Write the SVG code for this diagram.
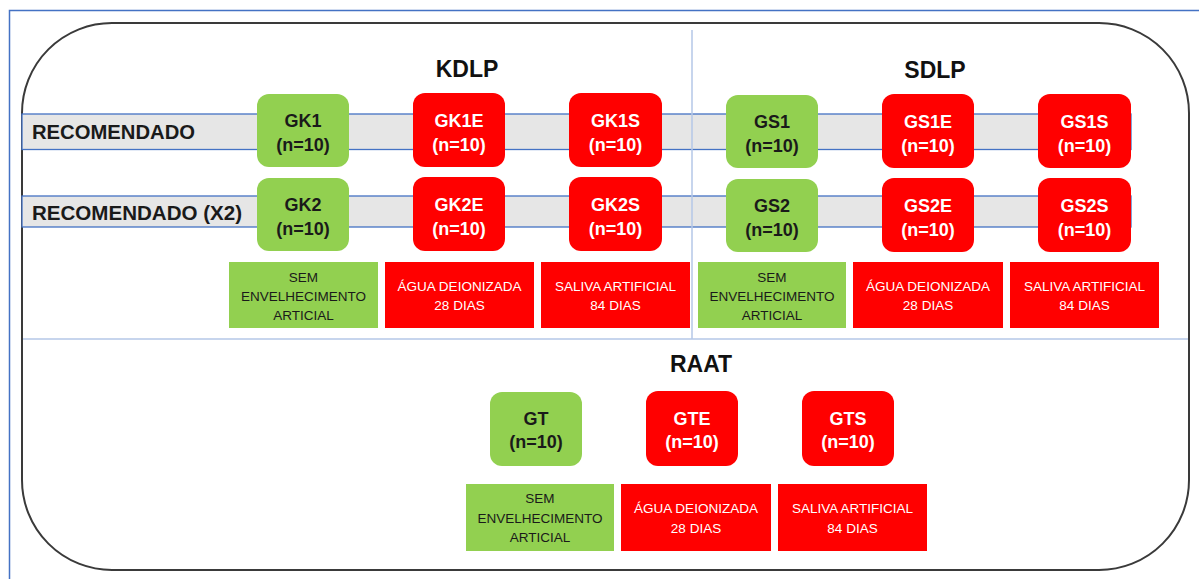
<svg xmlns="http://www.w3.org/2000/svg" width="1199" height="579" viewBox="0 0 1199 579">
  <style>
    .frame { fill: none; stroke: #4472c4; stroke-width: 1.5; }
    .panel { fill: #ffffff; stroke: #3a3a3a; stroke-width: 2; }
    .divider { stroke: #b4c7e7; stroke-width: 1.5; fill: none; }
    .band { fill: #e6e6e6; stroke: #4472c4; stroke-width: 1.3; }
    .green { fill: #92d050; }
    .red { fill: #ff0000; }
    .title { font-family: "Liberation Sans", Arial, sans-serif; font-weight: bold; font-size: 23px; fill: #111; text-anchor: middle; }
    .rowlabel { font-family: "Liberation Sans", Arial, sans-serif; font-weight: bold; font-size: 20px; fill: #1a1a1a; }
    .nodetext { font-family: "Liberation Sans", Arial, sans-serif; font-weight: bold; font-size: 18px; text-anchor: middle; }
    .captext { font-family: "Liberation Sans", Arial, sans-serif; font-size: 13.5px; text-anchor: middle; }
    .dark { fill: #1a1a1a; }
    .light { fill: #ffffff; }
  </style>

  <rect width="1199" height="579" fill="#ffffff"/>

  <!-- page frame -->
  <path class="frame" d="M9.5 579 V10.5 H1199"/>

  <!-- rounded panel -->
  <rect class="panel" x="22" y="23" width="1167" height="547" rx="90" ry="90"/>

  <!-- treatment bands -->
  <g id="bands">
    <rect class="band" x="22" y="114" width="1109" height="35.5"/>
    <rect class="band" x="22" y="196" width="1109" height="31"/>
    <text class="rowlabel" x="32" y="139" textLength="163" lengthAdjust="spacingAndGlyphs">RECOMENDADO</text>
    <text class="rowlabel" x="32" y="220" textLength="210" lengthAdjust="spacingAndGlyphs">RECOMENDADO (X2)</text>
  </g>

  <!-- section dividers -->
  <g id="dividers">
    <line class="divider" x1="692" y1="30" x2="692" y2="339"/>
    <line class="divider" x1="23" y1="339" x2="1188" y2="339"/>
  </g>

  <!-- section titles -->
  <text class="title" x="467" y="77">KDLP</text>
  <text class="title" x="935" y="78">SDLP</text>
  <text class="title" x="701" y="372">RAAT</text>

  <!-- KDLP groups -->
  <g id="GK1"><rect class="green" x="257" y="94" width="92" height="73" rx="12"/>
    <text class="nodetext dark" x="303" y="127">GK1</text><text class="nodetext dark" x="303" y="151">(n=10)</text></g>
  <g id="GK1E"><rect class="red" x="413" y="93" width="92" height="74" rx="12"/>
    <text class="nodetext light" x="459" y="127">GK1E</text><text class="nodetext light" x="459" y="151">(n=10)</text></g>
  <g id="GK1S"><rect class="red" x="569" y="93" width="93" height="74" rx="12"/>
    <text class="nodetext light" x="615.5" y="127">GK1S</text><text class="nodetext light" x="615.5" y="151">(n=10)</text></g>
  <g id="GK2"><rect class="green" x="257" y="178" width="92" height="73" rx="12"/>
    <text class="nodetext dark" x="303" y="211">GK2</text><text class="nodetext dark" x="303" y="235">(n=10)</text></g>
  <g id="GK2E"><rect class="red" x="413" y="177" width="92" height="74" rx="12"/>
    <text class="nodetext light" x="459" y="211">GK2E</text><text class="nodetext light" x="459" y="235">(n=10)</text></g>
  <g id="GK2S"><rect class="red" x="569" y="177" width="93" height="74" rx="12"/>
    <text class="nodetext light" x="615.5" y="211">GK2S</text><text class="nodetext light" x="615.5" y="235">(n=10)</text></g>

  <!-- SDLP groups -->
  <g id="GS1"><rect class="green" x="726" y="95" width="92" height="73" rx="12"/>
    <text class="nodetext dark" x="772" y="128">GS1</text><text class="nodetext dark" x="772" y="152">(n=10)</text></g>
  <g id="GS1E"><rect class="red" x="882" y="94" width="92" height="74" rx="12"/>
    <text class="nodetext light" x="928" y="128">GS1E</text><text class="nodetext light" x="928" y="152">(n=10)</text></g>
  <g id="GS1S"><rect class="red" x="1038" y="94" width="93" height="74" rx="12"/>
    <text class="nodetext light" x="1084.5" y="128">GS1S</text><text class="nodetext light" x="1084.5" y="152">(n=10)</text></g>
  <g id="GS2"><rect class="green" x="726" y="179" width="92" height="73" rx="12"/>
    <text class="nodetext dark" x="772" y="212">GS2</text><text class="nodetext dark" x="772" y="236">(n=10)</text></g>
  <g id="GS2E"><rect class="red" x="882" y="178" width="92" height="74" rx="12"/>
    <text class="nodetext light" x="928" y="212">GS2E</text><text class="nodetext light" x="928" y="236">(n=10)</text></g>
  <g id="GS2S"><rect class="red" x="1038" y="178" width="93" height="74" rx="12"/>
    <text class="nodetext light" x="1084.5" y="212">GS2S</text><text class="nodetext light" x="1084.5" y="236">(n=10)</text></g>

  <!-- RAAT groups -->
  <g id="GT"><rect class="green" x="490" y="392" width="92" height="74" rx="12"/>
    <text class="nodetext dark" x="536" y="425">GT</text><text class="nodetext dark" x="536" y="448">(n=10)</text></g>
  <g id="GTE"><rect class="red" x="646" y="391" width="92" height="75" rx="12"/>
    <text class="nodetext light" x="692" y="425">GTE</text><text class="nodetext light" x="692" y="448">(n=10)</text></g>
  <g id="GTS"><rect class="red" x="802" y="391" width="92" height="75" rx="12"/>
    <text class="nodetext light" x="848" y="425">GTS</text><text class="nodetext light" x="848" y="448">(n=10)</text></g>

  <!-- ageing condition captions: KDLP -->
  <g id="cap-kdlp-sem"><rect class="green" x="229" y="262" width="149" height="66"/>
    <text class="captext dark" x="303.5" y="282">SEM</text><text class="captext dark" x="303.5" y="301">ENVELHECIMENTO</text><text class="captext dark" x="303.5" y="320">ARTICIAL</text></g>
  <g id="cap-kdlp-agua"><rect class="red" x="385" y="262" width="149" height="66"/>
    <text class="captext light" x="459.5" y="291">ÁGUA DEIONIZADA</text><text class="captext light" x="459.5" y="310">28 DIAS</text></g>
  <g id="cap-kdlp-saliva"><rect class="red" x="541" y="262" width="149" height="66"/>
    <text class="captext light" x="615.5" y="291">SALIVA ARTIFICIAL</text><text class="captext light" x="615.5" y="310">84 DIAS</text></g>

  <!-- ageing condition captions: SDLP -->
  <g id="cap-sdlp-sem"><rect class="green" x="698" y="262" width="148" height="66"/>
    <text class="captext dark" x="772" y="282">SEM</text><text class="captext dark" x="772" y="301">ENVELHECIMENTO</text><text class="captext dark" x="772" y="320">ARTICIAL</text></g>
  <g id="cap-sdlp-agua"><rect class="red" x="853" y="262" width="150" height="66"/>
    <text class="captext light" x="928" y="291">ÁGUA DEIONIZADA</text><text class="captext light" x="928" y="310">28 DIAS</text></g>
  <g id="cap-sdlp-saliva"><rect class="red" x="1010" y="262" width="149" height="66"/>
    <text class="captext light" x="1084.5" y="291">SALIVA ARTIFICIAL</text><text class="captext light" x="1084.5" y="310">84 DIAS</text></g>

  <!-- ageing condition captions: RAAT -->
  <g id="cap-raat-sem"><rect class="green" x="466" y="484" width="148" height="67"/>
    <text class="captext dark" x="540" y="503">SEM</text><text class="captext dark" x="540" y="523">ENVELHECIMENTO</text><text class="captext dark" x="540" y="542">ARTICIAL</text></g>
  <g id="cap-raat-agua"><rect class="red" x="621" y="484" width="150" height="67"/>
    <text class="captext light" x="696" y="513">ÁGUA DEIONIZADA</text><text class="captext light" x="696" y="533">28 DIAS</text></g>
  <g id="cap-raat-saliva"><rect class="red" x="778" y="484" width="149" height="67"/>
    <text class="captext light" x="852.5" y="513">SALIVA ARTIFICIAL</text><text class="captext light" x="852.5" y="533">84 DIAS</text></g>
</svg>
